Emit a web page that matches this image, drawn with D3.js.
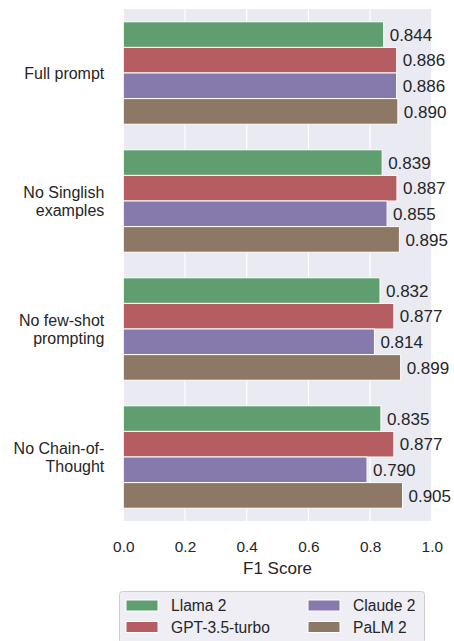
<!DOCTYPE html>
<html>
<head>
<meta charset="utf-8">
<script src="https://cdn.jsdelivr.net/npm/d3@7"></script>
<style>
  html, body { margin: 0; padding: 0; background: #ffffff; }
  svg { display: block; font-family: "Liberation Sans", Arial, sans-serif; }
</style>
</head>
<body>
<svg id="chart" width="454" height="641"></svg>
<script>
const categories = ["Full prompt", "No Singlish\nexamples", "No few-shot\nprompting", "No Chain-of-\nThought"];
const models = ["Llama 2", "GPT-3.5-turbo", "Claude 2", "PaLM 2"];
const llama2 = [0.844, 0.839, 0.832, 0.835];
const gpt35 = [0.886, 0.887, 0.877, 0.877];
const claude2 = [0.886, 0.855, 0.814, 0.790];
const palm2 = [0.890, 0.895, 0.899, 0.905];
const xTicks = [0.0, 0.2, 0.4, 0.6, 0.8, 1.0];
const colors = ["#5f9e6e", "#b55d60", "#857aab", "#8d7866"];

const seriesValues = [llama2, gpt35, claude2, palm2];
const textColor = "#262626";

const svg = d3.select("#chart");
const plotLeft = 123.3, plotRight = 431.8, plotTop = 9, plotBottom = 521;

const x = d3.scaleLinear().domain([0, 1]).range([plotLeft, plotRight]);
const y = d3.scaleBand().domain(categories).range([plotTop, plotBottom]).paddingInner(0.2).paddingOuter(0.1);
const yInner = d3.scaleBand().domain(models).range([0, y.bandwidth()]).padding(0);

// background
svg.append("rect").attr("x", plotLeft).attr("y", plotTop).attr("width", plotRight - plotLeft).attr("height", plotBottom - plotTop).attr("fill", "#eaeaf2");

// grid
svg.append("g").selectAll("line").data(xTicks).join("line")
  .attr("x1", d => x(d)).attr("x2", d => x(d)).attr("y1", plotTop).attr("y2", plotBottom)
  .attr("stroke", "#ffffff").attr("stroke-width", 1.25);

// bars
const rows = [];
categories.forEach((c, i) => models.forEach((m, j) => rows.push({ c, m, j, v: seriesValues[j][i] })));

svg.append("g").selectAll("rect").data(rows).join("rect")
  .attr("x", x(0))
  .attr("y", d => y(d.c) + yInner(d.m))
  .attr("width", d => x(d.v) - x(0))
  .attr("height", yInner.bandwidth())
  .attr("fill", d => colors[d.j])
  .attr("stroke", "#ffffff").attr("stroke-width", 1);

// value labels
svg.append("g").selectAll("text").data(rows).join("text")
  .attr("x", d => x(d.v) + 6)
  .attr("y", d => y(d.c) + yInner(d.m) + yInner.bandwidth() / 2)
  .attr("dy", "0.36em")
  .attr("font-size", 17).attr("fill", textColor)
  .text(d => d.v.toFixed(3));

// x axis ticks
const xAxis = d3.axisBottom(x).tickValues(xTicks).tickFormat(d3.format(".1f")).tickSize(0).tickPadding(0);
const gx = svg.append("g").attr("transform", `translate(0,${plotBottom})`).call(xAxis);
gx.select(".domain").remove();
gx.attr("font-family", null);
gx.selectAll("text").attr("font-size", 15.4).attr("fill", textColor)
  .attr("y", 25).attr("dy", "0.36em");

svg.append("text").attr("x", (plotLeft + plotRight) / 2).attr("y", 568).attr("dy", "0.36em")
  .attr("text-anchor", "middle").attr("font-size", 17).attr("fill", textColor).text("F1 Score");

// y axis labels
const yAxis = d3.axisLeft(y).tickSize(0).tickPadding(0).tickFormat(() => "");
const gy = svg.append("g").attr("transform", `translate(${plotLeft},0)`).call(yAxis);
gy.select(".domain").remove();
gy.attr("font-family", null);
gy.selectAll(".tick").each(function(d) {
  const lines = d.split("\n");
  const t = d3.select(this).append("text")
    .attr("text-anchor", "end").attr("font-size", 16).attr("fill", textColor);
  const lh = 18;
  lines.forEach((ln, k) => {
    t.append("tspan").attr("x", -19)
      .attr("y", (k - (lines.length - 1) / 2) * lh)
      .attr("dy", "0.36em").text(ln);
  });
});

// legend
const lg = svg.append("g");
lg.append("rect").attr("x", 119.5).attr("y", 591.5).attr("width", 305).attr("height", 52).attr("rx", 3)
  .attr("fill", "#eeeef4").attr("stroke", "#cccccc").attr("stroke-width", 1);
const legendPos = [
  { px: 126, tx: 171, cy: 605.5 },
  { px: 126, tx: 171, cy: 627 },
  { px: 308, tx: 353, cy: 605.5 },
  { px: 308, tx: 353, cy: 627 }
];
models.forEach((m, j) => {
  const p = legendPos[j];
  lg.append("rect").attr("x", p.px).attr("y", p.cy - 5.5).attr("width", 32).attr("height", 11)
    .attr("fill", colors[j]).attr("stroke", "#ffffff").attr("stroke-width", 1);
  lg.append("text").attr("x", p.tx).attr("y", p.cy).attr("dy", "0.36em")
    .attr("font-size", 15.6).attr("fill", textColor).text(m);
});
</script>
</body>
</html>
